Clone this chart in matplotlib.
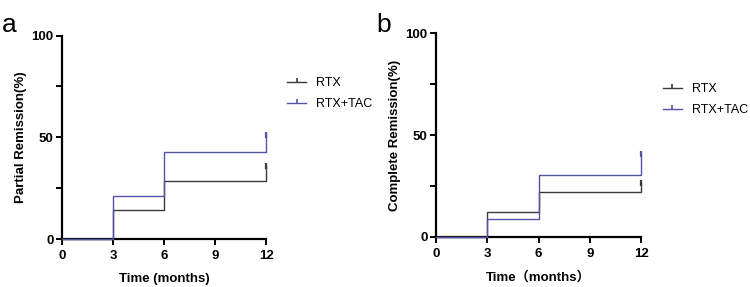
import matplotlib.pyplot as plt
from matplotlib.lines import Line2D

plt.rcParams['font.family'] = ['Liberation Sans', 'Noto Sans CJK SC', 'DejaVu Sans']

# data
months = [0, 3, 6, 12, 12]
partial_rtx = [0, 14.3, 28.6, 28.6, 35.7]
partial_rtx_tac = [0, 21.4, 42.9, 42.9, 51.0]
complete_rtx = [0, 12.1, 21.8, 21.8, 26.2]
complete_rtx_tac = [0, 8.7, 30.6, 30.6, 40.5]
series_names = ['RTX', 'RTX+TAC']
colors = ['#3a3a3a', '#5353a6']
xticks = [0, 3, 6, 9, 12]

fig = plt.figure(figsize=(7.5, 2.87), dpi=100)
ax_a = fig.add_axes([0.0827, 0.167, 0.272, 0.709])
ax_b = fig.add_axes([0.581, 0.175, 0.274, 0.709])

def draw_panel(ax, ys, ylabel, xlabel, leg_y):
    for y, c in zip(ys, colors):
        ax.step(months, y, where='post', color=c, lw=1.0, clip_on=False, zorder=3)
        ax.plot([12], [y[-1]], marker='|', ms=4, mew=1.6, color=c, clip_on=False, zorder=4)
    ax.set_xlim(0, 12)
    ax.set_ylim(0, 100)
    ax.set_xticks(xticks)
    ax.set_yticks([0, 25, 50, 75, 100])
    ax.set_yticklabels(['0', '', '50', '', '100'])
    for s in ['top', 'right']:
        ax.spines[s].set_visible(False)
    for s in ['left', 'bottom']:
        ax.spines[s].set_linewidth(1.6)
        ax.spines[s].set_color('black')
    ax.tick_params(width=1.4, length=4, labelsize=9.5, pad=2)
    ax.tick_params(axis='x', pad=4)
    for lab in ax.get_xticklabels() + ax.get_yticklabels():
        lab.set_fontweight('bold')
    ax.set_ylabel(ylabel, fontsize=9.5, fontweight='bold', labelpad=3)
    ax.set_xlabel(xlabel, fontsize=9.5, fontweight='bold', labelpad=8)
    handles = [Line2D([0], [0], color=c, lw=1.0, marker=2, ms=3, mew=1.2) for c in colors]
    ax.legend(handles, series_names, loc='upper left', bbox_to_anchor=(1.05, leg_y),
              frameon=False, fontsize=9, handlelength=1.5, handletextpad=0.8,
              labelspacing=0.7)

draw_panel(ax_a, [partial_rtx, partial_rtx_tac], 'Partial Remission(%)', 'Time (months)', 0.85)
draw_panel(ax_b, [complete_rtx, complete_rtx_tac], 'Complete Remission(%)', 'Time（months）', 0.81)

fig.text(0.003, 0.89, 'a', fontsize=19)
fig.text(0.502, 0.89, 'b', fontsize=19)

fig.savefig('out.png', dpi=100)
